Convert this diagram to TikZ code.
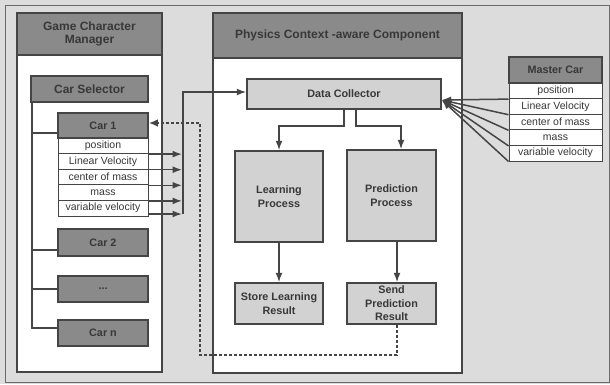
\documentclass[tikz,border=0pt]{standalone}
\usepackage{fontspec}
\setmainfont{Liberation Sans}
\usetikzlibrary{arrows.meta}
\definecolor{bgc}{HTML}{DCDCDC}
\definecolor{hdr}{HTML}{8A8A8A}
\definecolor{lbox}{HTML}{D2D2D2}
\definecolor{ln}{HTML}{454545}
\definecolor{txt}{HTML}{383838}
\begin{document}
\begin{tikzpicture}[x=1pt,y=-1pt,
  hdrbox/.style={draw=ln,line width=1.5pt,fill=hdr,text=txt,font=\fontsize{12}{14}\selectfont\bfseries,align=center,inner sep=0pt},
  carbox/.style={draw=ln,line width=1.5pt,fill=hdr,text=txt,font=\fontsize{10.8}{12}\selectfont\bfseries,align=center,inner sep=0pt,minimum width=90pt},
  bodybox/.style={draw=ln,line width=1.5pt,fill=white,inner sep=0pt},
  procbox/.style={draw=ln,line width=1.5pt,fill=lbox,text=txt,font=\fontsize{10.8}{13.5}\selectfont\bfseries,align=center,inner sep=0pt},
  attrrow/.style={draw=ln,line width=1pt,fill=white,text=txt,font=\fontsize{10.5}{11}\selectfont,inner sep=0pt,minimum height=15.6pt},
  conn/.style={draw=ln,line width=1.5pt},
  arr/.style={conn,-{Latex[length=9.5pt,width=7pt]}},
  dasharr/.style={draw=ln,line width=2.6pt,dash pattern=on 3.5pt off 1.5pt,-{Latex[length=9pt,width=7.5pt]}}
]
\useasboundingbox (0,0) rectangle (610,384);
% background
\fill[bgc] (0,0) rectangle (610,384);
\draw[draw=ln!80,line width=1pt] (5,5) rectangle (609,382);

% Game Character Manager
\node[bodybox,minimum width=145pt,minimum height=317pt] (gcmb) at (89.5,213.5) {};
\node[hdrbox,minimum width=145pt,minimum height=42pt] (gcmh) at (89.5,34) {Game Character\\[-1pt]Manager};
\node[hdrbox,minimum width=117pt,minimum height=26pt] (cs) at (89.5,89) {Car Selector};

\node[carbox,minimum height=25pt] (car1) at (103,125.5) {Car 1};
\node[attrrow,minimum width=90pt] (r1) at (103,145.8) {position};
\node[attrrow,minimum width=90pt] (r2) at (103,161.4) {Linear Velocity};
\node[attrrow,minimum width=90pt] (r3) at (103,177.0) {center of mass};
\node[attrrow,minimum width=90pt] (r4) at (103,192.6) {mass};
\node[attrrow,minimum width=90pt] (r5) at (103,208.2) {variable velocity};
\node[carbox,minimum height=27pt] (car2) at (103,242.5) {Car 2};
\node[carbox,minimum height=26pt] (cdots) at (103,289) {...};
\node[carbox,minimum height=26pt] (carn) at (103,333) {Car n};

% tree
\coordinate (treex) at (32,0);
\draw[conn] (cs.south -| treex) -- ([yshift=5pt]carn.west -| treex) -- ([yshift=5pt]carn.west);
\draw[conn] ([yshift=-7.5pt]car1.west -| treex) -- ([yshift=-7.5pt]car1.west);
\draw[conn] ([yshift=-7.5pt]car2.west -| treex) -- ([yshift=-7.5pt]car2.west);
\draw[conn] (cdots.west -| treex) -- (cdots.west);

% Physics Context-aware Component
\node[bodybox,minimum width=249pt,minimum height=315pt] (pcb) at (337.5,215.5) {};
\node[hdrbox,minimum width=249pt,minimum height=45pt] (pch) at (337.5,35.5) {Physics Context -aware Component};
\node[procbox,minimum width=194pt,minimum height=30pt] (dc) at (344,94) {Data Collector};
\node[procbox,minimum width=88pt,minimum height=91pt] (learn) at (279,196.5) {Learning\\Process};
\node[procbox,minimum width=89pt,minimum height=91pt] (pred) at (391.5,195.5) {Prediction\\Process};
\node[procbox,minimum width=88pt,minimum height=41pt] (store) at (279,303.5) {Store Learning\\Result};
\node[procbox,minimum width=89pt,minimum height=41pt] (send) at (391.5,303.5) {Send\\Prediction\\Result};

% Master Car
\node[carbox,minimum width=93pt,minimum height=26pt] (mc) at (555.5,70) {Master Car};
\node[attrrow,minimum width=93pt] (m1) at (555.5,90.8) {position};
\node[attrrow,minimum width=93pt] (m2) at (555.5,106.4) {Linear Velocity};
\node[attrrow,minimum width=93pt] (m3) at (555.5,122.0) {center of mass};
\node[attrrow,minimum width=93pt] (m4) at (555.5,137.6) {mass};
\node[attrrow,minimum width=93pt] (m5) at (555.5,153.2) {variable velocity};

% car 1 attributes to bus
\coordinate (arrend) at (182,0);
\coordinate (busx) at (183,0);
\draw[arr] (r1.south east) -- (r1.south east -| arrend);
\draw[arr] (r2.south east) -- (r2.south east -| arrend);
\draw[arr] (r3.south east) -- (r3.south east -| arrend);
\draw[arr] (r4.south east) -- (r4.south east -| arrend);
\draw[arr] ([yshift=2.5pt]r5.south east) -- ([yshift=2.5pt]r5.south east -| arrend);
\coordinate (dcin) at ([yshift=2pt]dc.west);
\draw[arr] ([yshift=2.5pt]r5.south east -| busx) -- (busx |- dcin) -- (dcin);

% data collector to processes
\coordinate (split) at (0,126);
\coordinate (dcout) at ([xshift=12pt]dc.south);
\coordinate (predin) at ([xshift=9.5pt]pred.north);
\draw[arr] (dc.south) -- (dc.south |- split) -- (split -| learn.north) -- (learn.north);
\draw[arr] (dcout) -- (dcout |- split) -- (split -| predin) -- (predin);
\draw[arr] (learn.south) -- (store.north);
\draw[arr] ([xshift=5.5pt]pred.south) -- ([xshift=5.5pt]send.north);

% master car to data collector
\coordinate (dcr) at ([yshift=-6pt]dc.east);
\draw[arr] (m1.south west) -- (dcr);
\draw[arr] (m2.south west) -- (dcr);
\draw[arr] (m3.south west) -- (dcr);
\draw[arr] (m4.south west) -- (dcr);
\draw[arr] (m5.south west) -- (dcr);

% dashed feedback
\coordinate (dlow) at (200,355);
\coordinate (sendout) at ([xshift=5.5pt]send.south);
\coordinate (c1e) at ([yshift=2.5pt]car1.east);
\draw[dasharr] (sendout) -- (sendout |- dlow) -- (dlow) -- (dlow |- c1e) -- (c1e);
\end{tikzpicture}
\end{document}
